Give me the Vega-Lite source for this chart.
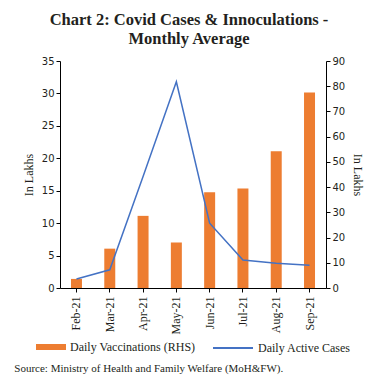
{
  "$schema": "https://vega.github.io/schema/vega-lite/v6.json",
  "padding": {"left": 14, "top": 11, "right": 5, "bottom": 5},
  "title": {"text": ["Chart 2: Covid Cases & Innoculations -", "Monthly Average"], "font": "Liberation Serif", "fontSize": 16.5, "fontWeight": "bold", "color": "#231f20", "anchor": "middle", "lineHeight": 19, "offset": 9},
  "config": {
    "view": {"stroke": null},
    "axis": {"domainColor": "#000", "tickColor": "#000", "grid": false, "labelColor": "#231f20", "titleColor": "#231f20", "titleFont": "Liberation Serif", "titleFontWeight": "normal", "titleFontSize": 12, "labelFont": "DejaVu Sans", "labelFontSize": 10, "tickSize": 4},
    "legend": {"labelFont": "Liberation Serif", "labelFontSize": 12, "labelColor": "#231f20", "offset": 3, "layout": {"bottom": {"anchor": "middle", "margin": 16}}}
  },
  "data": {"values": [
    {"month": "Feb-21", "cases": 1.4, "vacc": 3.6},
    {"month": "Mar-21", "cases": 2.8, "vacc": 15.6},
    {"month": "Apr-21", "cases": 17.2, "vacc": 28.6},
    {"month": "May-21", "cases": 31.8, "vacc": 18.0},
    {"month": "Jun-21", "cases": 10.0, "vacc": 38.0},
    {"month": "Jul-21", "cases": 4.3, "vacc": 39.4},
    {"month": "Aug-21", "cases": 3.8, "vacc": 54.2},
    {"month": "Sep-21", "cases": 3.5, "vacc": 77.5}
  ]},
  "resolve": {"legend": {"fill": "independent", "stroke": "independent"}},
  "vconcat": [{
    "title": {"text": "Source: Ministry of Health and Family Welfare (MoH&FW).", "orient": "bottom", "anchor": "start", "frame": "bounds", "font": "Liberation Serif", "fontSize": 11, "fontWeight": "normal", "color": "#231f20", "offset": 9, "dx": -8},
    "resolve": {"legend": {"fill": "independent", "stroke": "independent"}},
    "vconcat": [{
      "width": 266,
      "height": 227,
      "encoding": {
        "x": {"field": "month", "type": "ordinal", "sort": null, "title": null,
          "scale": {"paddingInner": 0.67, "paddingOuter": 0.33},
          "axis": {"labelAngle": -90, "labelFont": "Liberation Serif", "labelFontSize": 12, "labelPadding": 4}}
      },
      "layer": [
        {
          "mark": {"type": "bar"},
          "encoding": {
            "y": {"field": "vacc", "type": "quantitative", "title": "In Lakhs",
              "scale": {"domain": [0, 90]},
              "axis": {"orient": "right", "values": [0,10,20,30,40,50,60,70,80,90], "titlePadding": 6}},
            "fill": {"datum": "Daily Vaccinations (RHS)", "type": "nominal",
              "scale": {"range": ["#ED7D31"]},
              "legend": {"title": null, "orient": "bottom", "symbolType": "M-1,-0.3H2V0.3H-1Z", "symbolSize": 400, "symbolStrokeWidth": 0, "labelOffset": 14}}
          }
        },
        {
          "mark": {"type": "line", "strokeWidth": 1.5},
          "encoding": {
            "y": {"field": "cases", "type": "quantitative", "title": "In Lakhs",
              "scale": {"domain": [0, 35]},
              "axis": {"orient": "left", "values": [0,5,10,15,20,25,30,35], "titlePadding": 6}},
            "stroke": {"datum": "Daily Active Cases", "type": "nominal",
              "scale": {"range": ["#4472C4"]},
              "legend": {"title": null, "orient": "bottom", "symbolType": "M-1,0H3", "symbolSize": 400, "symbolStrokeWidth": 2, "labelOffset": 24}}
          }
        }
      ],
      "resolve": {"scale": {"y": "independent"}}
    }]
  }]
}
